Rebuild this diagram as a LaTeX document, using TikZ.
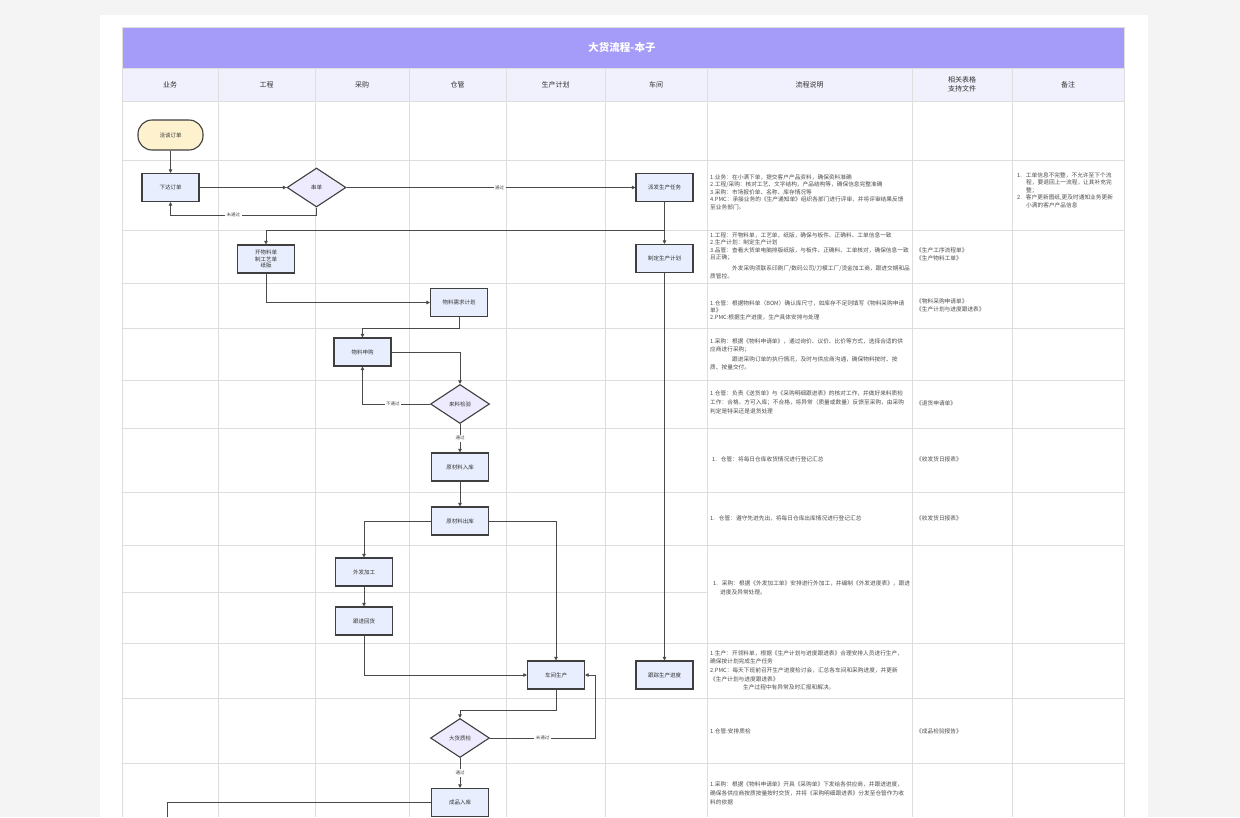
\documentclass[tikz,border=0pt]{standalone}
\usepackage{fontspec}
\setmainfont{Noto Sans CJK SC}
\usetikzlibrary{shapes.geometric,arrows.meta}
\definecolor{pagebg}{HTML}{F4F4F4}
\definecolor{titlebg}{HTML}{A49CF8}
\definecolor{headbg}{HTML}{F1F0FD}
\definecolor{gridc}{HTML}{DEDEDE}
\definecolor{boxfill}{HTML}{E8EEFE}
\definecolor{diafill}{HTML}{EFEBFE}
\definecolor{termfill}{HTML}{FDF1CE}
\definecolor{edgec}{HTML}{3F3F3F}
\definecolor{connc}{HTML}{4A4A4A}
\definecolor{txtc}{HTML}{333333}
\definecolor{desctxt}{HTML}{4D4D4D}
\begin{document}
\begin{tikzpicture}[x=1pt,y=-1pt,
 flowbox/.style={draw=edgec,line width=1.1pt,fill=boxfill,minimum width=57pt,minimum height=28pt,inner sep=1pt,font=\fontsize{5.5}{6.5}\selectfont,text=txtc,align=center},
 flowdia/.style={diamond,draw=edgec,line width=1.1pt,fill=diafill,minimum width=59pt,minimum height=39pt,inner sep=0pt,font=\fontsize{5.5}{6.5}\selectfont,text=txtc},
 flowterm/.style={draw=edgec,line width=1.1pt,fill=termfill,rounded corners=14pt,minimum width=65pt,minimum height=30pt,font=\fontsize{5.5}{6.5}\selectfont,text=txtc},
 conn/.style={draw=connc,line width=0.8pt,-{Triangle[length=3.5pt,width=3.5pt]}},
 plainconn/.style={draw=connc,line width=0.8pt},
 elabel/.style={fill=white,inner sep=1.5pt,font=\fontsize{4.5}{5}\selectfont,text=connc},
 desctext/.style={anchor=north west,inner sep=0pt,align=left,font=\fontsize{5.7}{8.3}\selectfont,text=desctxt},
 headtext/.style={font=\fontsize{7}{9}\selectfont,text=txtc,align=center},
 gridline/.style={draw=gridc,line width=0.9pt}
]
\useasboundingbox (0,0) rectangle (1240,817);
\fill[pagebg] (0,0) rectangle (1240,817);
\fill[white] (100,15) rectangle (1148,817);
\fill[titlebg] (122,27) rectangle (1124,68);
\fill[headbg] (122,68) rectangle (1124,101);
\foreach \x in {122,218,315,409,506,605,707,912,1012,1124} \draw[gridline] (\x,68) -- (\x,817);
\foreach \y in {68,101,160,230,283,328,380,428,492,545,643,698,763} \draw[gridline] (122,\y) -- (1124,\y);
\draw[gridline] (122,592) -- (707,592);
\draw[gridline] (122,27) rectangle (1124,68);

% title and headers
\node[font=\bfseries\fontsize{10.5}{12}\selectfont,text=white] (title) at (622,47.5) {大货流程-本子};
\node[headtext] (h1) at (170,84.5) {业务};
\node[headtext] (h2) at (266.5,84.5) {工程};
\node[headtext] (h3) at (362,84.5) {采购};
\node[headtext] (h4) at (457.5,84.5) {仓管};
\node[headtext] (h5) at (555.5,84.5) {生产计划};
\node[headtext] (h6) at (656,84.5) {车间};
\node[headtext] (h7) at (809.5,84.5) {流程说明};
\node[headtext] (h8) at (962,84.5) {相关表格\\支持文件};
\node[headtext] (h9) at (1068,84.5) {备注};

% flow nodes
\node[flowterm] (n1) at (170.5,135) {洽谈订单};
\node[flowbox] (n2) at (170.5,187.5) {下达订单};
\node[flowdia] (n3) at (316.5,187.5) {串单};
\node[flowbox] (n4) at (664.5,187.5) {派发生产任务};
\node[flowbox] (n5) at (664.5,258.5) {制定生产计划};
\node[flowbox] (n6) at (266,259) {开物料单\\制工艺单\\纸版};
\node[flowbox] (n7) at (459,302.5) {物料需求计划};
\node[flowbox] (n8) at (362.5,352) {物料申购};
\node[flowdia] (n9) at (460,404) {来料检验};
\node[flowbox] (n10) at (460,467) {原材料入库};
\node[flowbox] (n11) at (460,521) {原材料出库};
\node[flowbox] (n12) at (364,572) {外发加工};
\node[flowbox] (n13) at (364,621) {跟进回货};
\node[flowbox] (n14) at (556,675) {车间生产};
\node[flowbox] (n15) at (664.5,675) {跟踪生产进度};
\node[flowdia] (n16) at (460,738) {大货质检};
\node[flowbox] (n17) at (460,802.5) {成品入库};
\coordinate (c17) at (167,817);

% connectors
\draw[conn] (n1) -- (n2);
\draw[conn] (n2) -- (n3);
\draw[conn] (n3.south) -- (316.5,215) -- node[elabel,pos=0.57] {未通过} (170.5,215) -- (n2.south);
\draw[conn] (n3.east) -- node[elabel,pos=0.53] {通过} (n4.west);
\draw[conn] (n4) -- (n5);
\draw[conn] (n4.south) -- (664.5,230) -- (266,230) -- (n6.north);
\draw[conn] (n5) -- (n15);
\draw[conn] (n6.south) -- (266,302.5) -- (n7.west);
\draw[conn] (n7.south) -- (459,328) -- (362.5,328) -- (n8.north);
\draw[conn] (n8.east) -- (460,352) -- (n9.north);
\draw[conn] (n9.west) -- node[elabel,pos=0.55] {不通过} (362.5,404) -- (n8.south);
\draw[conn] (n9.south) -- node[elabel] {通过} (n10.north);
\draw[conn] (n10) -- (n11);
\draw[conn] (n11.west) -- (364,521) -- (n12.north);
\draw[conn] (n11.east) -- (556,521) -- (n14.north);
\draw[conn] (n12) -- (n13);
\draw[conn] (n13.south) -- (364,675) -- (n14.west);
\draw[conn] (n14.south) -- (556,710) -- (460,710) -- (n16.north);
\draw[conn] (n16.east) -- node[elabel] {未通过} (595,738) -- (595,675) -- (n14.east);
\draw[conn] (n16.south) -- node[elabel] {通过} (n17.north);
\draw[plainconn] (n17.west) -- (167,802.5) -- (c17);

% descriptions
\node[desctext,font=\fontsize{5.7}{7.6}\selectfont] (d2) at (710,174) {1.业务：在小满下单，提交客户产品资料，确保资料准确\\
2.工程/采购：核对工艺、文字结构，产品结构等，确保信息完整准确\\
3.采购：市场报价单、名称、库存情况等\\
4.PMC：承接业务的《生产通知单》组织各部门进行评审，并将评审结果反馈\\
至业务部门。};
\node[desctext,font=\fontsize{5.7}{7.6}\selectfont] (d3) at (710,232) {1.工程：开物料单，工艺单，纸版，确保与板件、正确料、工单信息一致\\
2.生产计划：制定生产计划\\
3.品管：查看大货单电脑排版纸版，与板件、正确料、工单核对，确保信息一致\\
且正确；\\[3.4pt]
\hspace*{22pt}外发采购须联系印刷厂/数码公司/刀模工厂/烫金加工商，跟进交期和品\\
质管控。};
\node[desctext,font=\fontsize{5.7}{7}\selectfont] (d4) at (710,300) {1.仓管：根据物料单（BOM）确认库尺寸，如库存不足则填写《物料采购申请\\
单》\\
2.PMC:根据生产进度，生产具体安排与处理};
\node[desctext,font=\fontsize{5.7}{8}\selectfont] (d5) at (710,338) {1.采购：根据《物料申请单》，通过询价、议价、比价等方式，选择合适的供\\
应商进行采购；\\[2pt]
\hspace*{22pt}跟进采购订单的执行情况，及时与供应商沟通，确保物料按时、按\\
质、按量交付。};
\node[desctext,font=\fontsize{5.7}{9}\selectfont] (d6) at (710,390) {1.仓管：负责《送货单》与《采购明细跟进表》的核对工作，并做好来料质检\\
工作：合格，方可入库；不合格，将异常（质量或数量）反馈至采购，由采购\\
判定是特采还是退货处理};
\node[desctext] (d7) at (712,456) {1.\hspace{4pt}仓管：将每日仓库收货情况进行登记汇总};
\node[desctext] (d8) at (710,515) {1.\hspace{4pt}仓管：遵守先进先出，将每日仓库出库情况进行登记汇总};
\node[desctext,font=\fontsize{5.7}{9}\selectfont] (d9) at (713,580) {1.\hspace{4pt}采购：根据《外发加工单》安排进行外加工，并编制《外发进度表》，跟进\\
\hspace*{7pt}进度及异常处理。};
\node[desctext,font=\fontsize{5.7}{8.7}\selectfont] (d10) at (710,650) {1.生产：开领料单，根据《生产计划与进度跟进表》合理安排人员进行生产，\\
确保按计划完成生产任务\\
2.PMC：每天下班前召开生产进度检讨会，汇总各车间和采购进度，并更新\\
《生产计划与进度跟进表》\\
\hspace*{33pt}生产过程中有异常及时汇报和解决。};
\node[desctext] (d11) at (710,728) {1.仓管:安排质检};
\node[desctext,font=\fontsize{5.7}{9}\selectfont] (d12) at (710,781) {1.采购：根据《物料申请单》开具《采购单》下发给各供应商，并跟进进度，\\
确保各供应商按质按量按时交货，并将《采购明细跟进表》分发至仓管作为收\\
料的依据};

% related documents
\node[desctext,font=\fontsize{5.7}{8}\selectfont] (r3) at (916,247) {《生产工序流程单》\\《生产物料工单》};
\node[desctext,font=\fontsize{5.7}{8.5}\selectfont] (r4) at (916,298) {《物料采购申请单》\\《生产计划与进度跟进表》};
\node[desctext] (r6) at (916,400) {《退货申请单》};
\node[desctext] (r7) at (916,456) {《收发货日报表》};
\node[desctext] (r8) at (916,515) {《收发货日报表》};
\node[desctext] (r11) at (916,728) {《成品检验报告》};

% notes
\node[desctext,font=\fontsize{5.7}{7.5}\selectfont] (m2) at (1017,172) {1.\hspace{4pt}工单信息不完整，不允许至下个流\\
\hspace*{9pt}程，要退回上一流程，让其补充完\\
\hspace*{9pt}整；\\
2.\hspace{4pt}客户更新图纸,更及时通知业务更新\\
\hspace*{9pt}小满的客户产品信息};
\end{tikzpicture}
\end{document}
